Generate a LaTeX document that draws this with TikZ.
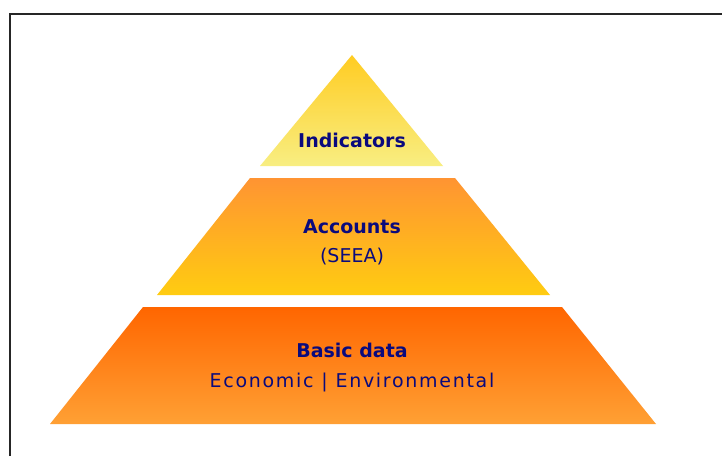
\documentclass[tikz,border=0pt]{standalone}
\usepackage{fontspec}
\setmainfont{DejaVu Sans}
\definecolor{navytext}{RGB}{10,10,125}
\definecolor{indtop}{RGB}{255,204,34}
\definecolor{indbot}{RGB}{248,238,130}
\definecolor{acctop}{RGB}{255,148,50}
\definecolor{accbot}{RGB}{255,204,17}
\definecolor{bastop}{RGB}{255,102,0}
\definecolor{basbot}{RGB}{255,160,52}
\tikzset{
  layer/.style={draw=none},
  title/.style={anchor=base, text=navytext, font=\fontsize{19}{22}\selectfont\bfseries, inner sep=0pt},
  sub/.style={anchor=base, text=navytext, font=\fontsize{19}{22}\selectfont, inner sep=0pt},
  frame/.style={line width=2.5pt, draw=black!85}
}
\begin{document}
\begin{tikzpicture}[x=1pt,y=-1pt]
\useasboundingbox (0,0) rectangle (722,456);
\fill[white] (0,0) rectangle (722,456);
\draw[frame] (10,456) -- (10,14) -- (722,14);
% layers
\shade[layer, top color=indtop, bottom color=indbot] (352,55) -- (443,166) -- (260,166) -- cycle;
\shade[layer, top color=acctop, bottom color=accbot] (250,178) -- (455,178) -- (550,295) -- (157,295) -- cycle;
\shade[layer, top color=bastop, bottom color=basbot] (143,307) -- (562,307) -- (656,424) -- (50,424) -- cycle;
% texts
\node[title] (ind) at (352,147) {Indicators};
\node[title] (acc) at (352,233) {Accounts};
\node[sub] (seea) at (352,262) {(SEEA)};
\node[title] (bas) at (352,357) {Basic data};
\node[sub, font=\fontsize{19}{22}\selectfont\addfontfeature{LetterSpace=9}] (eco) at (352,387) {Economic | Environmental};
\end{tikzpicture}
\end{document}
